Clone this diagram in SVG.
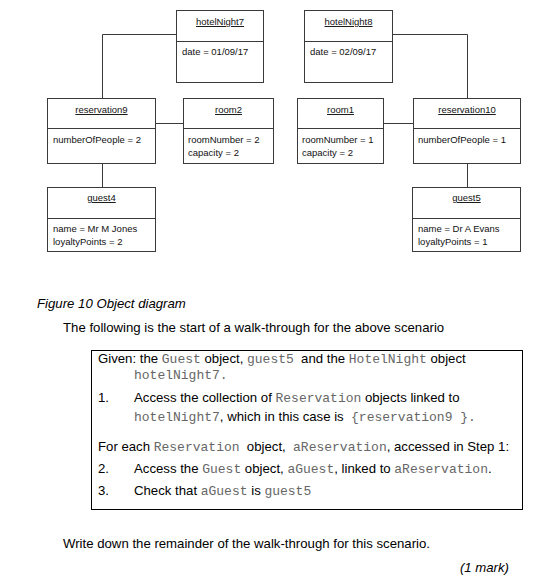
<svg xmlns="http://www.w3.org/2000/svg" width="534" height="581" viewBox="0 0 534 581">
<style>
.box{fill:#fff;stroke:#3a3a3a;stroke-width:1}
.sep{stroke:#3a3a3a;stroke-width:1}
.t{font-family:"Liberation Sans",Arial,sans-serif;font-size:9.5px;fill:#111}
.tt{font-family:"Liberation Sans",Arial,sans-serif;font-size:9.5px;fill:#111;text-decoration:underline;text-anchor:middle}
.conn{fill:none;stroke:#3a3a3a;stroke-width:1}
.b{font-family:"Liberation Sans",Arial,sans-serif;font-size:13.2px;fill:#000}
.m{font-family:"Liberation Mono","Courier New",monospace;font-size:13px;fill:#666}
.i{font-style:italic}
</style>
<rect width="534" height="581" fill="#fff"/>
<g id="connectors">
<polyline class="conn" points="176.5,34.5 102.5,34.5 102.5,98.5"/>
<line class="conn" x1="102.5" y1="163.5" x2="102.5" y2="187.5"/>
<line class="conn" x1="155.5" y1="123.5" x2="183.5" y2="123.5"/>
<polyline class="conn" points="392.5,34.5 467.5,34.5 467.5,98.5"/>
<line class="conn" x1="467.5" y1="163.5" x2="467.5" y2="187.5"/>
<line class="conn" x1="383.5" y1="123.5" x2="413.5" y2="123.5"/>
</g>
<g id="hotelNight7">
<rect class="box" x="176.5" y="10.5" width="87" height="72"/>
<line class="sep" x1="176.5" y1="41.5" x2="263.5" y2="41.5"/>
<text class="tt" x="220" y="25">hotelNight7</text>
<text class="t" x="182" y="55">date = 01/09/17</text>
</g>
<g id="hotelNight8">
<rect class="box" x="304.5" y="10.5" width="88" height="72"/>
<line class="sep" x1="304.5" y1="41.5" x2="392.5" y2="41.5"/>
<text class="tt" x="348.5" y="25">hotelNight8</text>
<text class="t" x="310" y="55">date = 02/09/17</text>
</g>
<g id="reservation9">
<rect class="box" x="47.5" y="98.5" width="108" height="65"/>
<line class="sep" x1="47.5" y1="128.5" x2="155.5" y2="128.5"/>
<text class="tt" x="101.5" y="113">reservation9</text>
<text class="t" x="53" y="143">numberOfPeople = 2</text>
</g>
<g id="room2">
<rect class="box" x="183.5" y="98.5" width="90" height="65"/>
<line class="sep" x1="183.5" y1="128.5" x2="273.5" y2="128.5"/>
<text class="tt" x="228.5" y="113">room2</text>
<text class="t" x="188" y="143">roomNumber = 2</text>
<text class="t" x="188" y="156">capacity = 2</text>
</g>
<g id="room1">
<rect class="box" x="297.5" y="98.5" width="86" height="65"/>
<line class="sep" x1="297.5" y1="128.5" x2="383.5" y2="128.5"/>
<text class="tt" x="340.5" y="113">room1</text>
<text class="t" x="302" y="143">roomNumber = 1</text>
<text class="t" x="302" y="156">capacity = 2</text>
</g>
<g id="reservation10">
<rect class="box" x="413.5" y="98.5" width="107" height="65"/>
<line class="sep" x1="413.5" y1="128.5" x2="520.5" y2="128.5"/>
<text class="tt" x="467" y="113">reservation10</text>
<text class="t" x="418" y="143">numberOfPeople = 1</text>
</g>
<g id="guest4">
<rect class="box" x="47.5" y="187.5" width="108" height="64"/>
<line class="sep" x1="47.5" y1="218.5" x2="155.5" y2="218.5"/>
<text class="tt" x="101.5" y="201">guest4</text>
<text class="t" x="53" y="232">name = Mr M Jones</text>
<text class="t" x="53" y="245">loyaltyPoints = 2</text>
</g>
<g id="guest5">
<rect class="box" x="412.5" y="187.5" width="108" height="64"/>
<line class="sep" x1="412.5" y1="218.5" x2="520.5" y2="218.5"/>
<text class="tt" x="466.5" y="201">guest5</text>
<text class="t" x="418" y="232">name = Dr A Evans</text>
<text class="t" x="418" y="245">loyaltyPoints = 1</text>
</g>
<text class="b i" x="37" y="308">Figure 10 Object diagram</text>
<text class="b" x="63" y="332">The following is the start of a walk-through for the above scenario</text>
<rect x="91.5" y="350.5" width="431" height="159" fill="none" stroke="#000" stroke-width="1"/>
<text class="b" x="98" y="363" xml:space="preserve">Given: the <tspan class="m">Guest</tspan> object, <tspan class="m">guest5</tspan>  and the <tspan class="m">HotelNight</tspan> object</text>
<text class="m" x="134" y="379">hotelNight7.</text>
<text class="b" x="98" y="402">1.</text>
<text class="b" x="134" y="402" xml:space="preserve">Access the collection of <tspan class="m">Reservation</tspan> objects linked to</text>
<text class="b" x="134" y="421" xml:space="preserve"><tspan class="m">hotelNight7</tspan>, which in this case is  <tspan class="m">{reservation9 }.</tspan></text>
<text class="b" x="98" y="451" xml:space="preserve">For each <tspan class="m">Reservation</tspan>  object,  <tspan class="m">aReservation</tspan>, accessed in Step 1:</text>
<text class="b" x="98" y="473">2.</text>
<text class="b" x="134" y="473" xml:space="preserve">Access the <tspan class="m">Guest</tspan> object, <tspan class="m">aGuest</tspan>, linked to <tspan class="m">aReservation</tspan>.</text>
<text class="b" x="98" y="495">3.</text>
<text class="b" x="134" y="495" xml:space="preserve">Check that <tspan class="m">aGuest</tspan> is <tspan class="m">guest5</tspan></text>
<text class="b" x="63" y="548">Write down the remainder of the walk-through for this scenario.</text>
<text class="b i" x="509" y="572" text-anchor="end">(1 mark)</text>
</svg>
